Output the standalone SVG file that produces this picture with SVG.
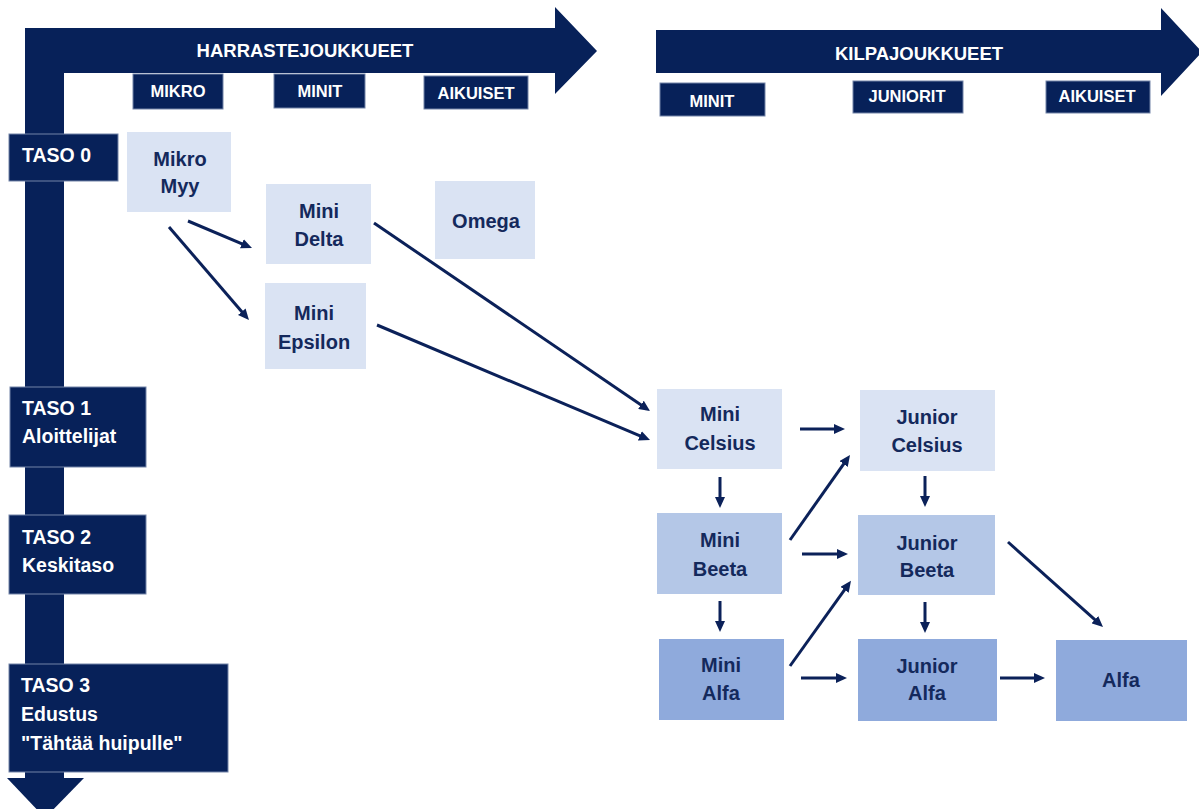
<svg xmlns="http://www.w3.org/2000/svg" width="1199" height="809" viewBox="0 0 1199 809">
<style>
.navy{fill:#072159}
.hb{fill:#072159;stroke:#7384a8;stroke-width:1}
.wt{fill:#ffffff;font-family:"Liberation Sans",Arial,sans-serif;font-weight:bold}
.hdr{font-size:18.5px;text-anchor:middle}
.sub{font-size:16.5px;text-anchor:middle}
.lvl{font-size:19.5px}
.n1{fill:#dae3f3}
.n2{fill:#b4c7e7}
.n3{fill:#8faadc}
.nt{fill:#14295c;font-family:"Liberation Sans",Arial,sans-serif;font-weight:bold;font-size:20px;text-anchor:middle}
.con line{stroke:#0b2159;stroke-width:3;marker-end:url(#ah)}
</style>
<defs>
<marker id="ah" markerUnits="userSpaceOnUse" markerWidth="11" markerHeight="10" refX="6" refY="5" orient="auto">
<path d="M0,0 L11,5 L0,10 z" fill="#0b2159"/>
</marker>
</defs>
<rect width="1199" height="809" fill="#ffffff"/>

<!-- Left L-shaped arrow -->
<g id="harraste-arrow">
<rect class="navy" x="25" y="28" width="39" height="752"/>
<polygon class="navy" points="25,28 555,28 555,7 597,51 555,94 555,73 25,73"/>
<polygon class="navy" points="7,778 84,778 45,818"/>
<text class="wt hdr" x="305" y="57">HARRASTEJOUKKUEET</text>
</g>
<g id="hdr-mikro"><rect class="hb" x="133" y="74" width="90" height="35"/><text class="wt sub" x="178" y="97">MIKRO</text></g>
<g id="hdr-minit1"><rect class="hb" x="274" y="74" width="91" height="34"/><text class="wt sub" x="320" y="97">MINIT</text></g>
<g id="hdr-aikuiset1"><rect class="hb" x="424" y="76" width="104" height="33"/><text class="wt sub" x="476" y="99">AIKUISET</text></g>

<!-- Right arrow -->
<g id="kilpa-arrow">
<polygon class="navy" points="656,30 1161,30 1161,8 1202,52 1161,96 1161,73 656,73"/>
<text class="wt hdr" x="919" y="60">KILPAJOUKKUEET</text>
</g>
<g id="hdr-minit2"><rect class="hb" x="660" y="83" width="105" height="33"/><text class="wt sub" x="712" y="107">MINIT</text></g>
<g id="hdr-juniorit"><rect class="hb" x="853" y="81" width="110" height="32"/><text class="wt sub" x="907" y="102">JUNIORIT</text></g>
<g id="hdr-aikuiset2"><rect class="hb" x="1046" y="81" width="104" height="32"/><text class="wt sub" x="1097" y="102">AIKUISET</text></g>

<!-- Levels -->
<g id="taso0"><rect class="hb" x="9" y="134" width="109" height="47"/><text class="wt lvl" x="22" y="162">TASO 0</text></g>
<g id="taso1"><rect class="hb" x="10" y="387" width="136" height="80"/><text class="wt lvl" x="22" y="415">TASO 1</text><text class="wt lvl" x="22" y="443">Aloittelijat</text></g>
<g id="taso2"><rect class="hb" x="9" y="515" width="137" height="79"/><text class="wt lvl" x="22" y="544">TASO 2</text><text class="wt lvl" x="22" y="572">Keskitaso</text></g>
<g id="taso3"><rect class="hb" x="9" y="664" width="219" height="108"/><text class="wt lvl" x="21" y="692">TASO 3</text><text class="wt lvl" x="21" y="721">Edustus</text><text class="wt lvl" x="21" y="750">"Tähtää huipulle"</text></g>

<!-- Nodes -->
<g id="mikro-myy"><rect class="n1" x="127" y="132" width="104" height="80"/><text class="nt" x="180" y="166">Mikro</text><text class="nt" x="180" y="193">Myy</text></g>
<g id="mini-delta"><rect class="n1" x="266" y="184" width="105" height="80"/><text class="nt" x="319" y="218">Mini</text><text class="nt" x="319" y="246">Delta</text></g>
<g id="omega"><rect class="n1" x="435" y="181" width="100" height="78"/><text class="nt" x="486" y="228">Omega</text></g>
<g id="mini-epsilon"><rect class="n1" x="265" y="283" width="101" height="86"/><text class="nt" x="314" y="320">Mini</text><text class="nt" x="314" y="349">Epsilon</text></g>
<g id="mini-celsius"><rect class="n1" x="657" y="389" width="125" height="80"/><text class="nt" x="720" y="421">Mini</text><text class="nt" x="720" y="450">Celsius</text></g>
<g id="junior-celsius"><rect class="n1" x="860" y="390" width="135" height="81"/><text class="nt" x="927" y="424">Junior</text><text class="nt" x="927" y="452">Celsius</text></g>
<g id="mini-beeta"><rect class="n2" x="657" y="513" width="125" height="81"/><text class="nt" x="720" y="547">Mini</text><text class="nt" x="720" y="576">Beeta</text></g>
<g id="junior-beeta"><rect class="n2" x="858" y="515" width="137" height="80"/><text class="nt" x="927" y="550">Junior</text><text class="nt" x="927" y="577">Beeta</text></g>
<g id="mini-alfa"><rect class="n3" x="659" y="639" width="125" height="81"/><text class="nt" x="721" y="672">Mini</text><text class="nt" x="721" y="700">Alfa</text></g>
<g id="junior-alfa"><rect class="n3" x="858" y="639" width="139" height="82"/><text class="nt" x="927" y="673">Junior</text><text class="nt" x="927" y="700">Alfa</text></g>
<g id="alfa"><rect class="n3" x="1056" y="640" width="131" height="81"/><text class="nt" x="1121" y="687">Alfa</text></g>

<!-- Connectors -->
<g id="connectors" class="con">
<line x1="188" y1="221" x2="247.4" y2="246.1"/>
<line x1="169" y1="227" x2="245.7" y2="316.2"/>
<line x1="374" y1="223" x2="645.9" y2="408.2"/>
<line x1="377" y1="325" x2="645.4" y2="438.1"/>
<line x1="800" y1="429" x2="840" y2="429"/>
<line x1="720" y1="477" x2="720" y2="503"/>
<line x1="925" y1="476" x2="925" y2="502"/>
<line x1="790" y1="540" x2="847.1" y2="459.1"/>
<line x1="802" y1="554" x2="843" y2="554"/>
<line x1="720" y1="601" x2="720" y2="627"/>
<line x1="925" y1="602" x2="925" y2="628"/>
<line x1="1008" y1="542" x2="1099.3" y2="623.7"/>
<line x1="790" y1="666" x2="848.1" y2="584.9"/>
<line x1="801" y1="678" x2="842" y2="678"/>
<line x1="1000" y1="678" x2="1040" y2="678"/>
</g>
</svg>
